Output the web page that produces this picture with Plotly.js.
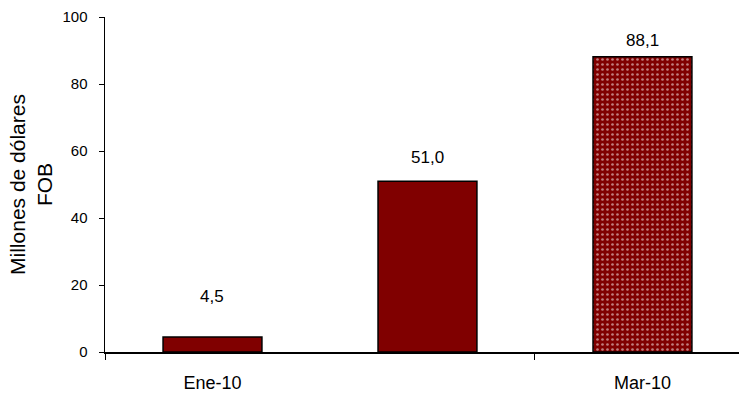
<!DOCTYPE html>
<html>
<head>
<meta charset="utf-8">
<script src="https://cdn.plot.ly/plotly-3.0.1.min.js"></script>
<style>html,body{margin:0;padding:0;background:#fff;}#chart{width:739px;height:396px;}</style>
</head>
<body>
<div id="chart"></div>
<script>
const categories = ['Ene-10', 'Feb-10', 'Mar-10'];
const values = [4.5, 51.0, 88.1];
const valueLabels = ['4,5', '51,0', '88,1'];
const tickLabels = ['Ene-10', '', 'Mar-10'];
const yTitle = 'Millones de dólares<br>FOB';

// label vertical offsets (px) as placed in the original
const labelShift = [40, 24, 16];

const xpos = categories.map((c, i) => i);
const shownIdx = [0, 2];
const FONT = 'Liberation Sans, Arial, sans-serif';

const trace = {
  type: 'bar',
  x: xpos,
  y: values,
  width: 0.46,
  marker: {
    color: '#800000',
    line: {color: '#000', width: 1.5},
    pattern: {
      shape: ['', '', '.'],
      fgcolor: '#ffffff',
      bgcolor: '#800000',
      size: 5,
      solidity: 0.22,
      fillmode: 'overlay'
    }
  },
  hoverinfo: 'skip'
};

const annotations = xpos.map((x, i) => ({
  x: x, y: values[i], xref: 'x', yref: 'y',
  text: valueLabels[i], showarrow: false,
  yshift: labelShift[i], yanchor: 'middle',
  font: {family: FONT, size: 17, color: '#000'}
}));

const layout = {
  width: 739,
  height: 396,
  margin: {l: 105, r: 0, t: 17, b: 44},
  paper_bgcolor: '#fff',
  plot_bgcolor: '#fff',
  showlegend: false,
  font: {family: FONT, color: '#000'},
  annotations: annotations,
  xaxis: {
    range: [-0.5, 2.449],
    tickvals: shownIdx.map(i => xpos[i]),
    ticktext: shownIdx.map(i => tickLabels[i]),
    ticks: '',
    ticklabelstandoff: 13,
    tickfont: {size: 18},
    showline: true,
    linecolor: '#000',
    linewidth: 2,
    showgrid: false,
    zeroline: false,
    minor: {ticks: 'outside', tick0: -0.5, dtick: 2, ticklen: 6, tickcolor: '#000', tickwidth: 1, showgrid: false},
    fixedrange: true
  },
  yaxis: {
    range: [0, 100],
    tickvals: [0, 20, 40, 60, 80, 100],
    ticks: 'outside',
    ticklen: 5,
    tickcolor: '#000',
    tickwidth: 1,
    tickfont: {size: 15},
    ticklabelstandoff: 8,
    showline: true,
    linecolor: '#000',
    linewidth: 1.5,
    showgrid: false,
    zeroline: false,
    title: {text: yTitle, font: {size: 21}, standoff: 4},
    fixedrange: true
  }
};

Plotly.newPlot('chart', [trace], layout, {displayModeBar: false, staticPlot: true});
</script>
</body>
</html>
